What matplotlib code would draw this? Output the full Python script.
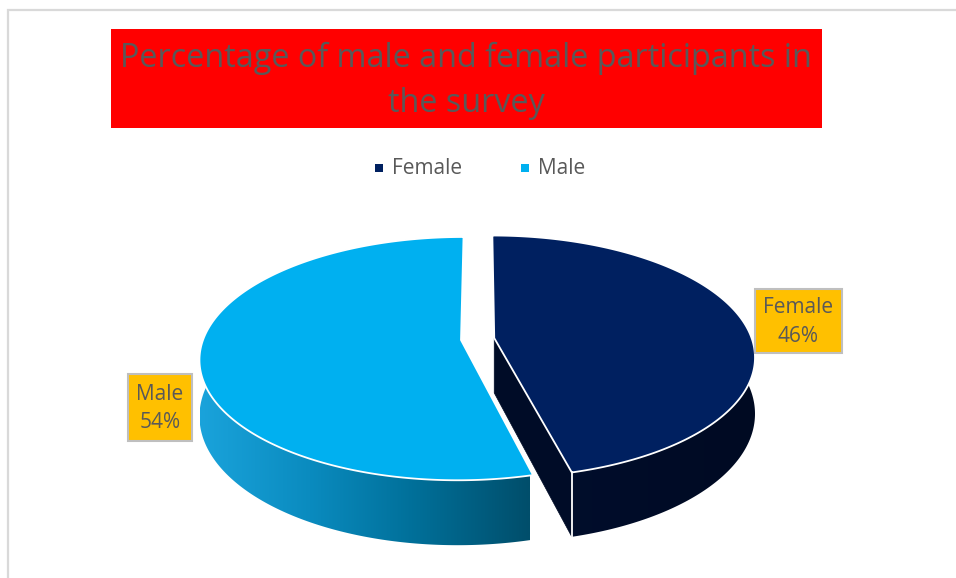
import numpy as np
import matplotlib
matplotlib.use("Agg")
import matplotlib.pyplot as plt
from matplotlib.patches import Polygon, Rectangle
from matplotlib.colors import LinearSegmentedColormap

# ---- data -------------------------------------------------------------
categories = ["Female", "Male"]
shares = [46, 54]
title_lines = ["Percentage of male and female participants in", "the survey"]

# ---- styling ----------------------------------------------------------
top_colors = ["#002060", "#00B0F0"]
side_cmaps = [
    LinearSegmentedColormap.from_list("fside", ["#000F30", "#000A22"]),
    LinearSegmentedColormap.from_list("mside", ["#1AA3DB", "#0A8BBF", "#006E97", "#004E6B"]),
]
side_spans = [(480, 760), (200, 530)]
cut_color = "#000C27"
explode = [0.13, 0.0]
text_gray = "#595959"
FONT = "Open Sans"

W, H = 956, 578
fig = plt.figure(figsize=(W / 100, H / 100), dpi=100)
ax = fig.add_axes([0, 0, 1, 1])
ax.axis("off")

# ---- 3-D pie projection (tilted disc with mild perspective) -----------
PX, PY = 461, 340      # pie centre on screen
XC = 480               # horizontal perspective centre
RX, RY = 258, 118.8    # disc radius across / along the tilt
K = 0.153              # perspective strength
DEPTH = 55             # thickness of the pie


def project(u, v, h=0.0):
    u = np.asarray(u, float)
    v = np.asarray(v, float)
    h = np.asarray(h, float)
    w = 1 + K * v
    x = XC + (PX + RX * u - XC) / w
    y = PY + (-RY * v + DEPTH * h) / w
    return x, y


fracs = np.array(shares, float) / np.sum(shares)
bounds = 90 - 360 * np.concatenate([[0], np.cumsum(fracs)])

wedges = []
for i in range(len(shares)):
    t0, t1 = bounds[i], bounds[i + 1]
    mid = np.deg2rad((t0 + t1) / 2)
    ou, ov = explode[i] * np.cos(mid), explode[i] * np.sin(mid)
    th = np.deg2rad(np.linspace(t0, t1, 600))
    wedges.append((ou, ov, th))

# side walls: front-facing part of each slice's rim, shaded left-to-right
grad = np.linspace(0, 1, 512)[None, :]
for i, (ou, ov, th) in enumerate(wedges):
    vis = th[np.sin(th) < 0.1]
    u = ou + np.cos(vis)
    v = ov + np.sin(vis)
    xt, yt = project(u, v, 0)
    xb, yb = project(u, v, 1)
    pts = np.column_stack([np.concatenate([xt, xb[::-1]]),
                           np.concatenate([yt, yb[::-1]])])
    wall = Polygon(pts, closed=True, facecolor="none", edgecolor="none", zorder=2)
    ax.add_patch(wall)
    x0, x1 = side_spans[i]
    im = ax.imshow(grad, cmap=side_cmaps[i], aspect="auto",
                   extent=(x0, x1, H, 0), interpolation="bilinear", zorder=2)
    im.set_clip_path(wall)

# exposed cut face of the pulled-out slice, along its trailing radius
ou, ov, th = wedges[0]
ue, ve = ou + np.cos(th[-1]), ov + np.sin(th[-1])
cx, cy = project([ou, ue, ue, ou], [ov, ve, ve, ov], [0, 0, 1, 1])
ax.add_patch(Polygon(np.column_stack([cx, cy]), closed=True,
                     facecolor=cut_color, edgecolor=cut_color, lw=0.5, zorder=2))
ax.plot([cx[1], cx[2]], [cy[1], cy[2]], color="white", lw=1.3, zorder=4)

# top faces
for i, (ou, ov, th) in enumerate(wedges):
    u = np.concatenate([[ou], ou + np.cos(th)])
    v = np.concatenate([[ov], ov + np.sin(th)])
    x, y = project(u, v, 0)
    ax.add_patch(Polygon(np.column_stack([x, y]), closed=True,
                         facecolor=top_colors[i], edgecolor="white",
                         lw=1.3, joinstyle="round", zorder=3))

ax.set_xlim(0, W)
ax.set_ylim(H, 0)

# ---- chart frame (top and left edges) ---------------------------------
ax.plot([8.5, 8.5, W + 20], [H + 20, 9.5, 9.5], color="#D9D9D9", lw=1.6,
        solid_joinstyle="miter", zorder=1, clip_on=False)

# ---- title ------------------------------------------------------------
ax.add_patch(Rectangle((111, 29), 711, 99, facecolor="#FF0000",
                       edgecolor="none", zorder=1))
t1 = ax.text(466, 67, title_lines[0], ha="center", va="baseline",
             fontsize=22, color=text_gray, family=FONT, zorder=5)
fig.canvas.draw()
bw = t1.get_window_extent().width
title_size = 22 * 692 / bw
t1.set_fontsize(title_size)
ax.text(466, 112, title_lines[1], ha="center", va="baseline",
        fontsize=title_size, color=text_gray, family=FONT, zorder=5)

# ---- legend -----------------------------------------------------------
legend_x = [379.5, 525.5]
for i, name in enumerate(categories):
    ax.scatter([legend_x[i]], [167.5], marker="s", s=30, color=top_colors[i],
               linewidths=0, zorder=5)
    ax.text(legend_x[i] + 13, 174, name, ha="left", va="baseline",
            fontsize=15, color=text_gray, family=FONT, zorder=5)

# ---- data labels ------------------------------------------------------
label_boxes = [(755, 289, 87, 64), (128, 374, 64, 67)]
for i, name in enumerate(categories):
    bx, by, bw_, bh = label_boxes[i]
    ax.add_patch(Rectangle((bx, by), bw_, bh, facecolor="#FFC000",
                           edgecolor="#BFBFBF", lw=1.5, zorder=6))
    ax.text(bx + bw_ / 2, by + bh / 2 + 1, f"{name}\n{shares[i]}%",
            ha="center", va="center", fontsize=15, color=text_gray,
            family=FONT, linespacing=1.45, zorder=7)

fig.savefig("out.png", dpi=100)
